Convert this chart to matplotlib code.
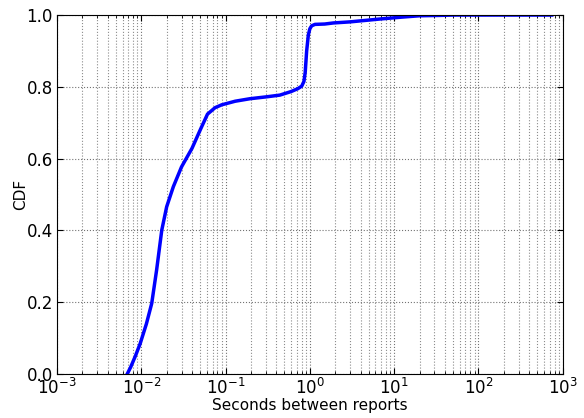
import numpy as np
import matplotlib
matplotlib.use("Agg")
import matplotlib.pyplot as plt

# CDF of seconds between reports
seconds = [0.0068, 0.0075, 0.0085, 0.0097, 0.0115, 0.0133, 0.0152, 0.0175,
           0.020, 0.024, 0.030, 0.040, 0.050, 0.061, 0.075, 0.09, 0.13,
           0.195, 0.3, 0.44, 0.6, 0.72, 0.8, 0.85, 0.88, 0.916, 0.96,
           1.0, 1.05, 1.15, 1.5, 1.9, 3.0, 6.8, 12, 20, 35, 50, 200, 740]
cdf = [0.0, 0.02, 0.05, 0.085, 0.14, 0.197, 0.29, 0.401,
       0.466, 0.522, 0.577, 0.629, 0.68, 0.724, 0.742, 0.75, 0.76,
       0.767, 0.772, 0.777, 0.787, 0.795, 0.802, 0.815, 0.84, 0.90, 0.945,
       0.962, 0.970, 0.974, 0.975, 0.978, 0.981, 0.989, 0.994, 0.998, 0.999, 1.0, 1.0, 1.0]

fig = plt.figure(figsize=(5.84, 4.18), dpi=100)
ax = fig.add_axes([0.0976, 0.105, 0.866, 0.859])
ax.plot(seconds, cdf, color="b", linewidth=2.5)
ax.set_xscale("log")
ax.set_xlim(1e-3, 1e3)
ax.set_ylim(0, 1)
ax.set_yticks(np.arange(0, 1.01, 0.2))
ax.set_yticklabels(["%.1f" % v for v in np.arange(0, 1.01, 0.2)])
ax.grid(True, which="major", color="0.45", linestyle=":", linewidth=0.8)
ax.grid(True, which="minor", color="0.55", linestyle=":", linewidth=0.8)
ax.tick_params(which="both", direction="in", top=True, right=True, labelsize=12, pad=3)
ax.tick_params(which="major", length=4)
ax.tick_params(which="minor", length=2)
ax.set_xlabel("Seconds between reports", fontsize=11, labelpad=0)
ax.set_ylabel("CDF", fontsize=11, labelpad=-1)
fig.savefig("out.png", dpi=100)
